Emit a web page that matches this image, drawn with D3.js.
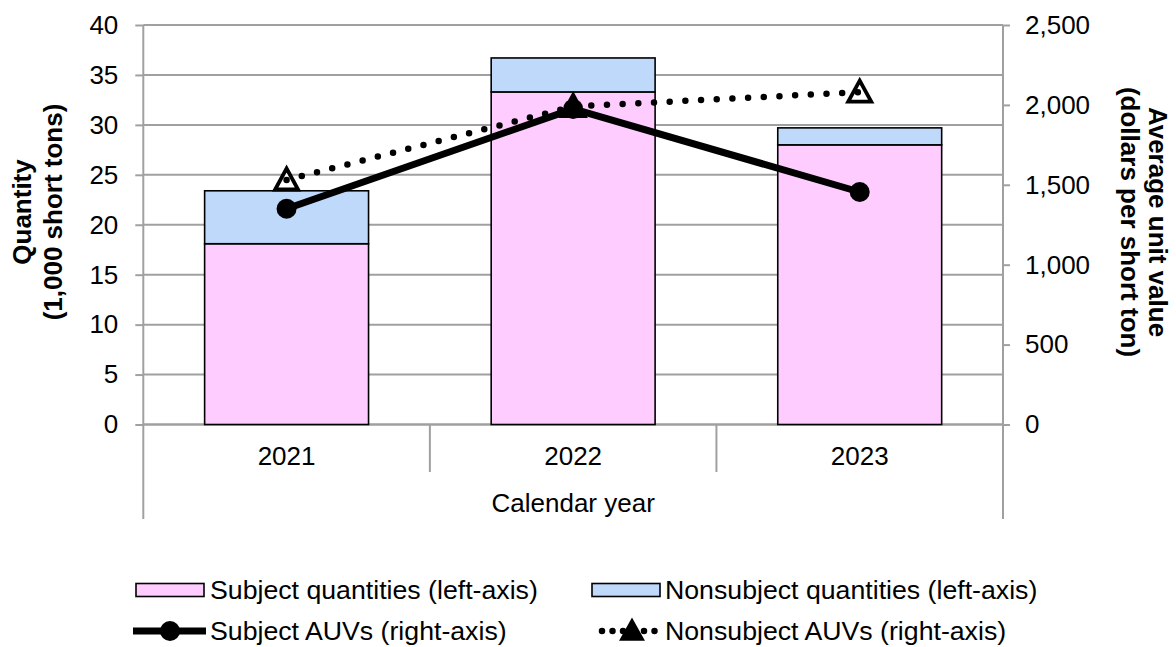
<!DOCTYPE html>
<html>
<head>
<meta charset="utf-8">
<script src="https://cdn.jsdelivr.net/npm/d3@7"></script>
<style>
  html, body { margin: 0; padding: 0; background: #fff; }
  svg { display: block; font-family: "Liberation Sans", Arial, sans-serif; }
</style>
</head>
<body>
<svg id="chart" width="1176" height="647"></svg>
<script>
// Calendar years on the category axis
const years = ["2021", "2022", "2023"];
// Quantities, 1,000 short tons (left axis)
const subjectQty = [18.1, 33.3, 28.0];
const nonsubjectQty = [5.3, 3.4, 1.7];
// Average unit values, dollars per short ton (right axis)
const subjectAUV = [1350, 1975, 1455];
const nonsubjectAUV = [1530, 1990, 2080];
// Axis ticks
const leftTicks = [0, 5, 10, 15, 20, 25, 30, 35, 40];
const rightTicks = [0, 500, 1000, 1500, 2000, 2500];

const seriesNames = {
  subjectQty: "Subject quantities (left-axis)",
  nonsubjectQty: "Nonsubject quantities (left-axis)",
  subjectAUV: "Subject AUVs (right-axis)",
  nonsubjectAUV: "Nonsubject AUVs (right-axis)"
};

const PINK = "#FFCCFF", BLUE = "#BFD9FA", GRID = "#A0A0A0";
const FONT = 26;
const LEGEND_FONT = 26.7;

const svg = d3.select("#chart");
const L = 143.3, R = 1003, T = 25, B = 424.5;
const axisBottom = 519;

const x = d3.scaleBand().domain(years).range([L, R]).padding(0);
const yL = d3.scaleLinear().domain([0, 40]).range([B, T]);
const yR = d3.scaleLinear().domain([0, 2500]).range([B, T]);
const barW = x.bandwidth() * 0.572;
const cx = d => x(d) + x.bandwidth() / 2;

// Horizontal gridlines at the left-axis ticks
svg.append("g").selectAll("line").data(leftTicks).join("line")
  .attr("x1", L).attr("x2", R)
  .attr("y1", d => yL(d)).attr("y2", d => yL(d))
  .attr("stroke", GRID).attr("stroke-width", 2);

// Axis frame lines (extended below the plot for the category labels)
const frame = svg.append("g").attr("stroke", GRID).attr("stroke-width", 2);
frame.append("line").attr("x1", L).attr("x2", L).attr("y1", T).attr("y2", axisBottom);
frame.append("line").attr("x1", R).attr("x2", R).attr("y1", T).attr("y2", axisBottom);
frame.append("line").attr("x1", L).attr("x2", R).attr("y1", B).attr("y2", B);
frame.selectAll("line.div").data(years.slice(1)).join("line").attr("class", "div")
  .attr("x1", d => x(d)).attr("x2", d => x(d)).attr("y1", B).attr("y2", 472);

// Left axis ticks and labels
const gL = svg.append("g").attr("transform", `translate(${L},0)`)
  .call(d3.axisLeft(yL).tickValues(leftTicks).tickSize(8).tickPadding(17).tickFormat(d3.format("d")));
gL.select(".domain").remove();
gL.selectAll(".tick line").attr("stroke", GRID).attr("stroke-width", 2);
gL.selectAll(".tick text").attr("font-size", FONT).attr("fill", "#000")
  .attr("font-family", "Liberation Sans, Arial, sans-serif");

// Right axis ticks and labels
const gR = svg.append("g").attr("transform", `translate(${R},0)`)
  .call(d3.axisRight(yR).tickValues(rightTicks).tickSize(7).tickPadding(15).tickFormat(d3.format(",")));
gR.select(".domain").remove();
gR.selectAll(".tick line").attr("stroke", GRID).attr("stroke-width", 2);
gR.selectAll(".tick text").attr("font-size", FONT).attr("fill", "#000")
  .attr("font-family", "Liberation Sans, Arial, sans-serif");

// Category labels and axis title
svg.append("g").selectAll("text").data(years).join("text")
  .attr("x", d => cx(d)).attr("y", 465)
  .attr("text-anchor", "middle").attr("font-size", FONT).text(d => d);
svg.append("text").attr("x", (L + R) / 2).attr("y", 512)
  .attr("text-anchor", "middle").attr("font-size", FONT).text("Calendar year");

// Vertical axis titles
const leftTitle = svg.append("text").attr("font-size", FONT).attr("font-weight", "bold")
  .attr("text-anchor", "middle").attr("transform", "translate(0,212) rotate(-90)");
leftTitle.append("tspan").attr("x", 0).attr("y", 22).attr("dominant-baseline", "central").text("Quantity");
leftTitle.append("tspan").attr("x", 0).attr("y", 53).attr("dominant-baseline", "central").text("(1,000 short tons)");

const rightTitle = svg.append("text").attr("font-size", FONT).attr("font-weight", "bold")
  .attr("text-anchor", "middle").attr("transform", "translate(0,222) rotate(90)");
rightTitle.append("tspan").attr("x", 0).attr("y", -1158).attr("dominant-baseline", "central").text("Average unit value");
rightTitle.append("tspan").attr("x", 0).attr("y", -1130).attr("dominant-baseline", "central").text("(dollars per short ton)");

// Stacked bars
const stackRows = years.map((yr, i) => ({ year: yr, subjectQty: subjectQty[i], nonsubjectQty: nonsubjectQty[i] }));
const stacked = d3.stack().keys(["subjectQty", "nonsubjectQty"])(stackRows);
const fills = { subjectQty: PINK, nonsubjectQty: BLUE };
svg.append("g").selectAll("g").data(stacked).join("g")
  .attr("fill", d => fills[d.key])
  .selectAll("rect").data(d => d).join("rect")
  .attr("x", d => cx(d.data.year) - barW / 2)
  .attr("width", barW)
  .attr("y", d => yL(d[1]))
  .attr("height", d => yL(d[0]) - yL(d[1]))
  .attr("stroke", "#000").attr("stroke-width", 1.6);

// Triangle marker path (hollow)
const triPath = "M0,-11.5 L11.5,9.5 L-11.5,9.5 Z";

// Nonsubject AUVs: dotted line with hollow triangles
const line = d3.line().x(d => cx(d.year)).y(d => yR(d.v));
const nonData = years.map((yr, i) => ({ year: yr, v: nonsubjectAUV[i] }));
const subData = years.map((yr, i) => ({ year: yr, v: subjectAUV[i] }));

svg.append("g").selectAll("path").data(nonData).join("path")
  .attr("d", triPath)
  .attr("transform", d => `translate(${cx(d.year)},${yR(d.v)})`)
  .attr("fill", "#fff").attr("stroke", "#000").attr("stroke-width", 3.8)
  .attr("stroke-linejoin", "miter");
svg.append("path").datum(nonData).attr("d", line)
  .attr("fill", "none").attr("stroke", "#000").attr("stroke-width", 6.5)
  .attr("stroke-linecap", "round").attr("stroke-dasharray", "0 15.7");

// Subject AUVs: thick solid line with filled circles
svg.append("path").datum(subData).attr("d", line)
  .attr("fill", "none").attr("stroke", "#000").attr("stroke-width", 7)
  .attr("stroke-linejoin", "round");
svg.append("g").selectAll("circle").data(subData).join("circle")
  .attr("cx", d => cx(d.year)).attr("cy", d => yR(d.v)).attr("r", 10).attr("fill", "#000");

// Legend
const lg = svg.append("g").attr("font-size", LEGEND_FONT);
// Row 1: bar swatches
lg.append("rect").attr("x", 136).attr("y", 583.5).attr("width", 68).attr("height", 13)
  .attr("fill", PINK).attr("stroke", "#000").attr("stroke-width", 1.6);
lg.append("text").attr("x", 210).attr("y", 590).attr("dominant-baseline", "central").text(seriesNames.subjectQty);
lg.append("rect").attr("x", 592).attr("y", 583.5).attr("width", 68).attr("height", 13)
  .attr("fill", BLUE).attr("stroke", "#000").attr("stroke-width", 1.6);
lg.append("text").attr("x", 665).attr("y", 590).attr("dominant-baseline", "central").text(seriesNames.nonsubjectQty);
// Row 2: line swatches
lg.append("line").attr("x1", 133).attr("x2", 206).attr("y1", 631).attr("y2", 631)
  .attr("stroke", "#000").attr("stroke-width", 7);
lg.append("circle").attr("cx", 170).attr("cy", 631).attr("r", 10).attr("fill", "#000");
lg.append("text").attr("x", 210).attr("y", 631).attr("dominant-baseline", "central").text(seriesNames.subjectAUV);
lg.append("line").attr("x1", 602).attr("x2", 664).attr("y1", 631).attr("y2", 631)
  .attr("stroke", "#000").attr("stroke-width", 6.5).attr("stroke-linecap", "round")
  .attr("stroke-dasharray", "0 10.5");
lg.append("path").attr("d", "M0,-10 L10,8 L-10,8 Z").attr("transform", "translate(632,631)")
  .attr("fill", "#000").attr("stroke", "#000").attr("stroke-width", 3.5);
lg.append("text").attr("x", 665).attr("y", 631).attr("dominant-baseline", "central").text(seriesNames.nonsubjectAUV);
</script>
</body>
</html>
